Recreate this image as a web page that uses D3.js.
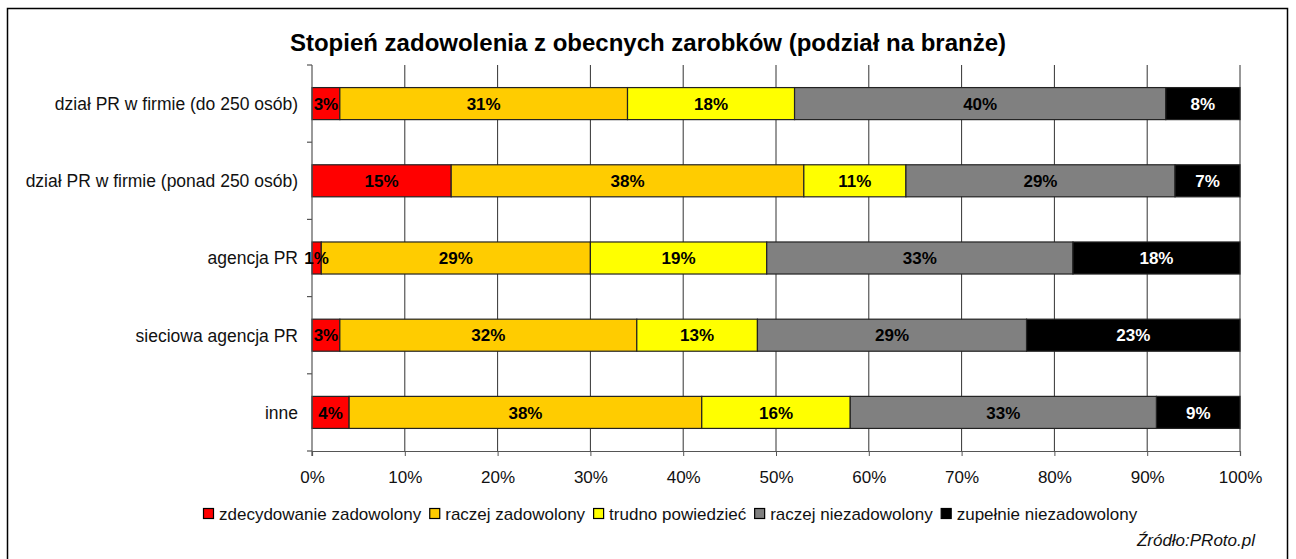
<!DOCTYPE html>
<html>
<head>
<meta charset="utf-8">
<script src="https://cdn.jsdelivr.net/npm/d3@7"></script>
<style>
  html, body { margin: 0; padding: 0; background: #fff; }
  svg { display: block; font-family: Arial, "Liberation Sans", sans-serif; }
</style>
</head>
<body>
<svg id="chart" width="1296" height="559"></svg>
<script>
// ---- data ----
const categories = [
    'dział PR w firmie (do 250 osób)',
    'dział PR w firmie (ponad 250 osób)',
    'agencja PR',
    'sieciowa agencja PR',
    'inne'
];
const seriesNames = [
    'zdecydowanie zadowolony',
    'raczej zadowolony',
    'trudno powiedzieć',
    'raczej niezadowolony',
    'zupełnie niezadowolony'
];
const seriesColors = ['#ff0000', '#ffcc00', '#ffff00', '#808080', '#000000'];
const labelColors = ['#000', '#000', '#000', '#000', '#fff'];
// one array per series, in category order
const zdecydowanieZadowolony = [3, 15, 1, 3, 4];
const raczejZadowolony = [31, 38, 29, 32, 38];
const trudnoPowiedziec = [18, 11, 19, 13, 16];
const raczejNiezadowolony = [40, 29, 33, 29, 33];
const zupelnieNiezadowolony = [8, 7, 18, 23, 9];
const xTicks = [0, 10, 20, 30, 40, 50, 60, 70, 80, 90, 100];

const title = 'Stopień zadowolenia z obecnych zarobków (podział na branże)';
const source = 'Źródło:PRoto.pl';

const seriesValues = [zdecydowanieZadowolony, raczejZadowolony, trudnoPowiedziec,
    raczejNiezadowolony, zupelnieNiezadowolony];

// ---- layout ----
const plot = { left: 312, right: 1240, top: 65, bottom: 451 };
const svg = d3.select('#chart');

// outer frame (bottom edge runs off the picture)
svg.append('rect')
    .attr('x', 7.5).attr('y', 8.5)
    .attr('width', 1280).attr('height', 560)
    .attr('fill', 'none')
    .attr('stroke', '#000')
    .attr('stroke-width', 1.5);

svg.append('text')
    .attr('x', 648).attr('y', 51)
    .attr('text-anchor', 'middle')
    .style('font-size', '24px')
    .style('font-weight', 'bold')
    .text(title);

const x = d3.scaleLinear().domain([0, 100]).range([plot.left, plot.right]);
const y = d3.scaleBand()
    .domain(categories)
    .range([plot.top, plot.bottom])
    .paddingInner(0.585)
    .paddingOuter(0.2925);

// vertical gridlines
svg.append('g')
    .selectAll('line')
    .data(xTicks.slice(1))
    .enter()
    .append('line')
    .attr('x1', d => x(d)).attr('x2', d => x(d))
    .attr('y1', plot.top).attr('y2', plot.bottom)
    .attr('stroke', '#333')
    .attr('stroke-width', 1);

// stacked data
const rows = categories.map((c, i) => {
    const r = { category: c };
    seriesNames.forEach((s, j) => { r[s] = seriesValues[j][i]; });
    return r;
});
const stacked = d3.stack().keys(seriesNames)(rows);

const layers = svg.append('g')
    .selectAll('g')
    .data(stacked)
    .enter()
    .append('g')
    .attr('fill', (d, i) => seriesColors[i]);

layers.selectAll('rect')
    .data(d => d)
    .enter()
    .append('rect')
    .attr('x', d => x(d[0]))
    .attr('y', d => y(d.data.category))
    .attr('width', d => x(d[1]) - x(d[0]))
    .attr('height', y.bandwidth())
    .attr('stroke', '#222')
    .attr('stroke-width', 1.2);

// y axis: line, category separators, labels
const yAxis = svg.append('g');
yAxis.append('line')
    .attr('x1', plot.left).attr('x2', plot.left)
    .attr('y1', plot.top).attr('y2', plot.bottom + 5)
    .attr('stroke', '#555').attr('stroke-width', 1.2);
const sepY = d3.range(categories.length + 1).map(i => plot.top + i * (plot.bottom - plot.top) / categories.length);
yAxis.selectAll('line.sep')
    .data(sepY)
    .enter()
    .append('line')
    .attr('class', 'sep')
    .attr('x1', plot.left - 5).attr('x2', plot.left)
    .attr('y1', d => d).attr('y2', d => d)
    .attr('stroke', '#555').attr('stroke-width', 1.2);
yAxis.selectAll('text')
    .data(categories)
    .enter()
    .append('text')
    .attr('x', plot.left - 14)
    .attr('y', d => y(d) + y.bandwidth() / 2)
    .attr('dy', '0.36em')
    .attr('text-anchor', 'end')
    .attr('fill', '#111')
    .style('font-size', '17.5px')
    .text(d => d);

// bar labels
stacked.forEach((layer, i) => {
    svg.append('g')
        .selectAll('text')
        .data(layer)
        .enter()
        .append('text')
        .attr('x', d => x((d[0] + d[1]) / 2))
        .attr('y', d => y(d.data.category) + y.bandwidth() / 2)
        .attr('dy', '0.36em')
        .attr('text-anchor', 'middle')
        .attr('fill', labelColors[i])
        .style('font-size', '17px')
        .style('font-weight', 'bold')
        .text(d => (d[1] - d[0]) + '%');
});

// x axis
const xAxis = svg.append('g')
    .attr('transform', `translate(0,${plot.bottom})`)
    .call(d3.axisBottom(x).tickValues(xTicks).tickSize(5).tickFormat(d => d + '%'));
xAxis.select('.domain').attr('stroke', '#555').attr('stroke-width', 1.2);
xAxis.selectAll('.tick line').attr('stroke', '#555');
xAxis.selectAll('.tick text')
    .attr('y', 20)
    .attr('fill', '#111')
    .style('font-size', '17px')
    .style('font-family', 'Arial, "Liberation Sans", sans-serif');

// legend
const legend = svg.append('g');
let lx = 203;
seriesNames.forEach((name, i) => {
    legend.append('rect')
        .attr('x', lx + 0.5).attr('y', 508.5)
        .attr('width', 10).attr('height', 10)
        .attr('fill', seriesColors[i])
        .attr('stroke', '#000')
        .attr('stroke-width', 1.2);
    const t = legend.append('text')
        .attr('x', lx + 16).attr('y', 513.5)
        .attr('dy', '0.36em')
        .attr('fill', '#111')
        .style('font-size', '17px')
        .text(name);
    lx += 16 + t.node().getComputedTextLength() + 8;
});

// source
svg.append('text')
    .attr('x', 1255).attr('y', 540)
    .attr('dy', '0.36em')
    .attr('text-anchor', 'end')
    .attr('fill', '#111')
    .style('font-size', '17px')
    .style('font-style', 'italic')
    .text(source);
</script>
</body>
</html>
